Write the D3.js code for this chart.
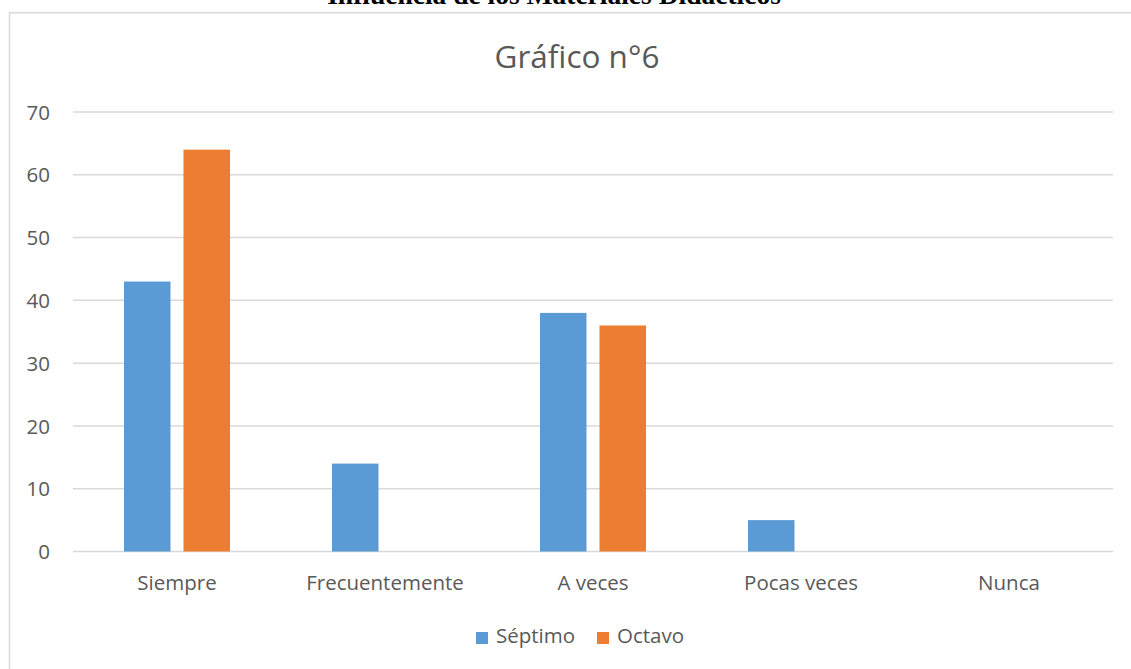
<!DOCTYPE html>
<html>
<head>
<meta charset="utf-8">
<script src="https://cdn.jsdelivr.net/npm/d3@7"></script>
<style>
  html, body { margin: 0; padding: 0; background: #fff; }
  svg { display: block; }
</style>
</head>
<body>
<svg id="chart" width="1131" height="669"></svg>
<script>
// Chart data
const categories = ["Siempre", "Frecuentemente", "A veces", "Pocas veces", "Nunca"];
const seriesNames = ["Séptimo", "Octavo"];
const septimo = [43, 14, 38, 5, 0];
const octavo = [64, 0, 36, 0, 0];
const yTicks = [0, 10, 20, 30, 40, 50, 60, 70];
const seriesColors = ["#5B9BD5", "#ED7D31"];
const docTitle = "Influencia de los Materiales Didácticos";
const chartTitle = "Gráfico n°6";

const svg = d3.select("#chart");
const W = 1131, H = 669;
const plot = { left: 73, right: 1113, top: 112, bottom: 551.5 };
const font = "'Open Sans', 'Noto Sans', sans-serif";
const textColor = "#595959";
const labelSize = 20.5;

// Page heading above the chart box (partly cut off by the top edge)
svg.append("text")
  .attr("x", 554).attr("y", 4)
  .attr("text-anchor", "middle")
  .attr("font-family", "'Liberation Serif', 'Times New Roman', serif")
  .attr("font-weight", "bold")
  .attr("font-size", 27.5)
  .attr("fill", "#000")
  .text(docTitle);

// Chart area frame
svg.append("path")
  .attr("d", `M9.5,${H} L9.5,12.75 L${W},12.75`)
  .attr("fill", "none")
  .attr("stroke", "#d9d9d9")
  .attr("stroke-width", 1.5);

// Scales
const x0 = d3.scaleBand().domain(categories).range([plot.left, plot.right]).paddingInner(0).paddingOuter(0);
const y = d3.scaleLinear().domain([0, 70]).range([plot.bottom, plot.top]);

// Gridlines
svg.append("g")
  .selectAll("line")
  .data(yTicks)
  .join("line")
  .attr("x1", plot.left).attr("x2", plot.right)
  .attr("y1", d => y(d)).attr("y2", d => y(d))
  .attr("stroke", "#d9d9d9")
  .attr("stroke-width", 1.5);

// Y axis labels
const yAxis = d3.axisLeft(y).tickValues(yTicks).tickSize(0).tickPadding(0);
const gy = svg.append("g").attr("transform", `translate(50,0)`).call(yAxis);
gy.select(".domain").remove();
gy.selectAll("text")
  .attr("font-family", font)
  .attr("font-size", labelSize)
  .attr("fill", textColor)
  .attr("dy", "0.35em");

// Bars
const groupW = 106;
const barW = 46.5;
const x1 = d3.scaleOrdinal().domain(seriesNames).range([-groupW / 2, groupW / 2 - barW]);
const series = [septimo, octavo];
seriesNames.forEach((name, si) => {
  svg.append("g")
    .selectAll("rect")
    .data(categories.map((c, i) => ({ c, v: series[si][i] })).filter(d => d.v > 0))
    .join("rect")
    .attr("x", d => x0(d.c) + x0.bandwidth() / 2 + x1(name))
    .attr("y", d => y(d.v))
    .attr("width", barW)
    .attr("height", d => y(0) - y(d.v))
    .attr("fill", seriesColors[si]);
});

// Category axis labels
const xAxis = d3.axisBottom(x0).tickSize(0).tickPadding(0);
const gx = svg.append("g").attr("transform", `translate(0,${plot.bottom})`).call(xAxis);
gx.select(".domain").remove();
gx.selectAll("text")
  .attr("font-family", font)
  .attr("font-size", labelSize)
  .attr("fill", textColor)
  .attr("dy", null)
  .attr("y", 38.5);

// Chart title
svg.append("text")
  .attr("x", 577).attr("y", 67.5)
  .attr("text-anchor", "middle")
  .attr("font-family", font)
  .attr("font-size", 31.5)
  .attr("fill", textColor)
  .text(chartTitle);

// Legend
const legend = svg.append("g");
const legendItems = [
  { name: seriesNames[0], color: seriesColors[0], x: 476 },
  { name: seriesNames[1], color: seriesColors[1], x: 597 }
];
legendItems.forEach(it => {
  legend.append("rect")
    .attr("x", it.x).attr("y", 632)
    .attr("width", 12).attr("height", 12)
    .attr("fill", it.color);
  legend.append("text")
    .attr("x", it.x + 20).attr("y", 642.5)
    .attr("font-family", font)
    .attr("font-size", labelSize)
    .attr("fill", textColor)
    .text(it.name);
});
</script>
</body>
</html>
